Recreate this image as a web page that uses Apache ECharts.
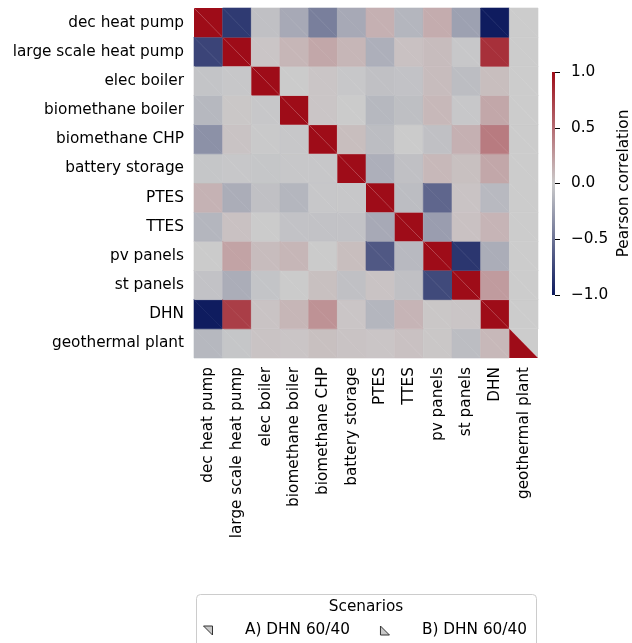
<!DOCTYPE html>
<html>
<head>
<meta charset="utf-8">
<script src="https://cdn.jsdelivr.net/npm/echarts@6/dist/echarts.min.js"></script>
<style>
    html, body { margin: 0; padding: 0; background: #fff; }
    #chart { width: 632px; height: 643px; }
</style>
</head>
<body>
<div id="chart"></div>
<script>
// technologies, same order on both axes
const technologies = [
    'dec heat pump', 'large scale heat pump', 'elec boiler', 'biomethane boiler',
    'biomethane CHP', 'battery storage', 'PTES', 'TTES', 'pv panels',
    'st panels', 'DHN', 'geothermal plant'
];

// Pearson correlation, one row per technology (null = no value)
const corrValues = [
    [1, -0.82, -0.06, -0.19, -0.43, -0.19, 0.14, -0.12, 0.16, -0.24, -0.99, null],
    [-0.76, 1, 0.03, 0.11, 0.19, 0.11, -0.16, 0.05, 0.08, -0.02, 0.81, null],
    [-0.04, -0.02, 1, 0.0, 0.03, -0.02, -0.06, -0.05, 0.08, -0.08, 0.07, null],
    [-0.11, 0.02, -0.02, 1, 0.03, 0.0, -0.11, -0.07, 0.10, -0.02, 0.19, null],
    [-0.33, 0.04, -0.01, -0.02, 1, 0.07, -0.08, 0.0, -0.06, 0.14, 0.42, null],
    [-0.03, -0.02, -0.03, -0.02, -0.02, 1, -0.16, -0.06, 0.10, 0.06, 0.19, null],
    [0.13, -0.17, -0.06, -0.12, -0.02, -0.02, 1, -0.08, -0.57, 0.04, -0.10, null],
    [-0.12, 0.05, 0.0, -0.05, -0.05, -0.05, -0.19, 1, -0.26, 0.05, 0.12, null],
    [0.0, 0.21, 0.08, 0.11, 0.0, 0.07, -0.65, -0.10, 1, -0.84, -0.17, null],
    [-0.05, -0.17, -0.04, 0.0, 0.06, -0.06, 0.04, -0.06, -0.73, 1, 0.25, null],
    [-0.99, 0.74, 0.04, 0.11, 0.30, 0.03, -0.12, 0.12, 0.02, 0.03, 1, null],
    [-0.11, -0.03, 0.04, 0.03, 0.06, 0.04, 0.03, 0.05, 0.02, -0.08, 0.10, 1]
];

// cells that scenario A does not have [row, col]
const missingA = [[11, 11]];

const scenarioNames = ['A) DHN 60/40', 'B) DHN 60/40'];
const colorbarTicks = [-1, -0.5, 0, 0.5, 1];

const colorStops = ['#0d1a5e', '#cbcbcb', '#9e0c18'];
const missingColor = '#cccccc';
const font = 'DejaVu Sans';
const fs = 15.3;

function buildData(isA) {
    let out = [];
    corrValues.forEach((row, r) => {
        row.forEach((v, c) => {
            let miss = isA && missingA.some((m) => m[0] === r && m[1] === c);
            out.push([c, r, miss ? null : v]);
        });
    });
    return out;
}

// upper = scenario A triangle (top-right half), else B (bottom-left half)
function triangle(upper) {
    return function (params, api) {
        const v = api.value(2);
        const col = api.value(0), row = api.value(1);
        const ctr = api.coord([col, row]);
        const s = api.size([1, 1]);
        const l = ctr[0] - s[0] / 2, r = ctr[0] + s[0] / 2;
        const t = ctr[1] - s[1] / 2, b = ctr[1] + s[1] / 2;
        const pts = upper ? [[l, t], [r, t], [r, b]] : [[l, t], [l, b], [r, b]];
        const fill = (v == null || isNaN(v)) ? missingColor : api.visual('color');
        // hide the seam between the two halves except on the diagonal
        const seam = col !== row;
        return {
            type: 'polygon',
            shape: { points: pts },
            style: { fill: fill, stroke: seam ? fill : null, lineWidth: seam ? 0.6 : 0 }
        };
    };
}

const chart = echarts.init(document.getElementById('chart'), null, { renderer: 'canvas' });

let option = {
    backgroundColor: '#fff',
    animation: false,
    textStyle: { fontFamily: font, color: '#000' },
    grid: [
        { left: 194, top: 8, width: 344, height: 350 },
        { left: 552, top: 72, width: 12, height: 223 }
    ],
    xAxis: [
        {
            type: 'category',
            data: technologies,
            gridIndex: 0,
            axisLine: { show: false },
            axisTick: { show: false },
            splitLine: { show: false },
            axisLabel: { rotate: 90, fontSize: fs, color: '#000', margin: 9, interval: 0 }
        },
        {
            type: 'category',
            data: ['bar'],
            gridIndex: 1,
            show: false
        }
    ],
    yAxis: [
        {
            type: 'category',
            data: technologies,
            inverse: true,
            gridIndex: 0,
            axisLine: { show: false },
            axisTick: { show: false },
            splitLine: { show: false },
            axisLabel: { fontSize: fs, color: '#000', margin: 10, interval: 0 }
        },
        {
            type: 'value',
            gridIndex: 1,
            min: -1,
            max: 1,
            interval: 0.5,
            position: 'right',
            axisLine: { show: false },
            axisTick: { show: true, length: 5, lineStyle: { color: '#000', width: 1 } },
            splitLine: { show: false },
            axisLabel: {
                fontSize: fs,
                color: '#000',
                margin: 16,
                formatter: (v) => v.toFixed(1).replace('-', '\u2212')
            },
            name: 'Pearson correlation',
            nameLocation: 'middle',
            nameRotate: 90,
            nameGap: 62,
            nameTextStyle: { fontSize: fs, color: '#000' }
        }
    ],
    visualMap: {
        type: 'continuous',
        show: false,
        min: -1,
        max: 1,
        dimension: 2,
        seriesIndex: [0, 1],
        inRange: { color: colorStops }
    },
    legend: {
        left: 198,
        top: 618,
        itemWidth: 12,
        itemHeight: 9,
        itemGap: 30,
        textStyle: { fontSize: fs, color: '#000', padding: [0, 0, 0, 26] },
        selectedMode: false,
        data: [
            {
                name: scenarioNames[0],
                icon: 'path://M0,0L10,0L10,10Z',
                itemStyle: { color: '#c8c8c8', borderColor: '#333', borderWidth: 1 }
            },
            {
                name: scenarioNames[1],
                icon: 'path://M0,0L0,10L10,10Z',
                itemStyle: { color: '#c8c8c8', borderColor: '#333', borderWidth: 1 }
            }
        ]
    },
    graphic: [
        {
            type: 'rect',
            z: 0,
            shape: { x: 196.5, y: 594.5, width: 340, height: 80, r: 4 },
            style: { fill: '#fff', stroke: '#cccccc', lineWidth: 1 }
        },
        {
            type: 'text',
            z: 1,
            x: 366,
            y: 607,
            style: {
                text: 'Scenarios',
                font: fs + 'px "DejaVu Sans"',
                fill: '#000',
                align: 'center',
                verticalAlign: 'middle'
            }
        }
    ],
    series: [
        {
            name: scenarioNames[0],
            type: 'custom',
            xAxisIndex: 0,
            yAxisIndex: 0,
            encode: { x: 0, y: 1 },
            silent: true,
            renderItem: triangle(true),
            data: buildData(true)
        },
        {
            name: scenarioNames[1],
            type: 'custom',
            xAxisIndex: 0,
            yAxisIndex: 0,
            encode: { x: 0, y: 1 },
            silent: true,
            renderItem: triangle(false),
            data: buildData(false)
        },
        {
            // colour bar
            type: 'custom',
            xAxisIndex: 1,
            yAxisIndex: 1,
            silent: true,
            encode: { x: 0, y: [1, 2] },
            data: [[0, colorbarTicks[0], colorbarTicks[colorbarTicks.length - 1]]],
            renderItem: function (params, api) {
                const lo = api.coord([0, api.value(1)]);
                const hi = api.coord([0, api.value(2)]);
                const w = api.size([1, 0])[0];
                return {
                    type: 'rect',
                    shape: { x: lo[0] - w / 2, y: hi[1], width: w, height: lo[1] - hi[1] },
                    style: {
                        fill: new echarts.graphic.LinearGradient(0, 1, 0, 0, [
                            { offset: 0, color: colorStops[0] },
                            { offset: 0.5, color: colorStops[1] },
                            { offset: 1, color: colorStops[2] }
                        ])
                    }
                };
            }
        }
    ]
};

chart.setOption(option);
</script>
</body>
</html>
